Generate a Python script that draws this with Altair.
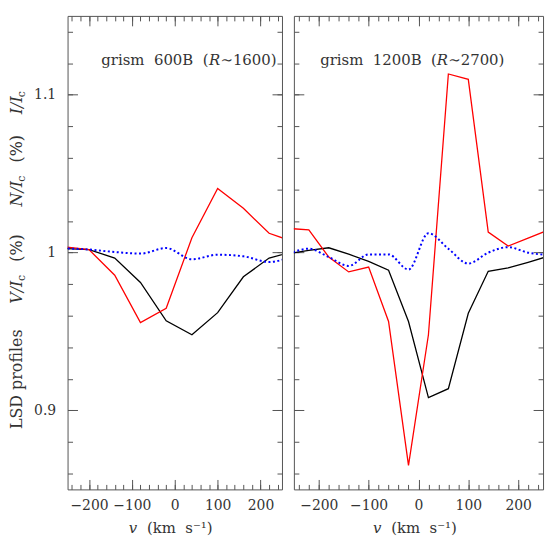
import altair as alt
import pandas as pd

# ---------------- data ----------------
v_600 = [-260, -200, -140, -80, -20, 40, 100, 160, 220, 280]
I_600 = [1.0026, 1.0019, 0.9966, 0.9811, 0.9568, 0.9480, 0.9620, 0.9847, 0.9966, 1.0008]
V_600 = [1.0038, 1.0019, 0.9857, 0.9557, 0.9648, 1.0094, 1.0406, 1.0281, 1.0123, 1.0066]
N_600 = [1.0027, 1.0020, 1.0004, 0.9994, 1.0029, 0.9958, 0.9987, 0.9977, 0.9941, 0.9983]

v_1200 = [-260, -220, -180, -140, -100, -60, -20, 20, 60, 100, 140, 180, 220, 260]
I_1200 = [0.9995, 1.0014, 1.0031, 0.9990, 0.9945, 0.9889, 0.9564, 0.9082, 0.9138, 0.9616, 0.9882, 0.9903, 0.9939, 0.9977]
V_1200 = [1.0153, 1.0145, 0.9972, 0.9878, 0.9909, 0.9564, 0.8652, 0.9480, 1.1132, 1.1098, 1.0130, 1.0042, 1.0092, 1.0143]
N_1200 = [0.9992, 1.0025, 0.9972, 0.9916, 0.9989, 0.9989, 0.9893, 1.0123, 1.0025, 0.9931, 1.0000, 1.0035, 1.0000, 0.9985]

x_label_ticks = [-200, -100, 0, 100, 200]
x_minor_ticks = [-240, -220, -200, -180, -160, -140, -120, -100, -80, -60, -40, -20, 0,
                 20, 40, 60, 80, 100, 120, 140, 160, 180, 200, 220, 240]
y_label_ticks = [0.9, 1.0, 1.1]
y_minor_ticks = [0.86, 0.88, 0.90, 0.92, 0.94, 0.96, 0.98, 1.00, 1.02, 1.04, 1.06, 1.08,
                 1.10, 1.12, 1.14]

FONT = "DejaVu Serif"
TXT = "#333333"
FRAME = "#555555"
SP = "\u00a0\u00a0"  # wide word gap (non-collapsing)

X_SCALE = alt.Scale(domain=[-250, 250], nice=False, zero=False)
Y_SCALE = alt.Scale(domain=[0.85, 1.15], nice=False, zero=False)


def tick_axis(orient, values, size):
    return alt.Axis(orient=orient, values=values, offset=-size, tickSize=size,
                    ticks=True, labels=False, domain=False, grid=False, title=None,
                    tickColor=FRAME, tickWidth=1)


def label_axis_x():
    return alt.Axis(orient="bottom", values=x_label_ticks, ticks=False, tickSize=0,
                    domain=False, grid=False, title=None, labelPadding=9,
                    labelFont=FONT, labelFontSize=14, labelColor=TXT, format="d",
                    labelOverlap=False, labelFlush=False)


def label_axis_y():
    return alt.Axis(orient="left", values=y_label_ticks, ticks=False, tickSize=0,
                    domain=False, grid=False, title=None, labelPadding=12,
                    labelFont=FONT, labelFontSize=14, labelColor=TXT, format="~g",
                    labelOverlap=False, labelFlush=False)


def line(df, col, ax_x, ax_y, **mark):
    return alt.Chart(df).mark_line(clip=True, **mark).encode(
        x=alt.X("v:Q", scale=X_SCALE, axis=ax_x),
        y=alt.Y(f"{col}:Q", scale=Y_SCALE, axis=ax_y),
    )


def txt(s, x, y, size=15, italic=False, angle=0, align="center", baseline="middle"):
    kw = dict(text=s, font=FONT, fontSize=size, color=TXT, align=align,
              baseline=baseline, angle=angle)
    if italic:
        kw["fontStyle"] = "italic"
    return alt.Chart(alt.Data(values=[{}])).mark_text(**kw).encode(
        x=alt.value(x), y=alt.value(y))


def panel(v, I, N, V, width, show_ylabels, texts):
    df = pd.DataFrame({"v": v, "I": I, "N": N, "V": V})
    layers = [
        line(df, "I", label_axis_x(), label_axis_y() if show_ylabels else None,
             color="#000000", strokeWidth=1.3),
        line(df, "V", tick_axis("bottom", x_label_ticks, 10), tick_axis("left", y_label_ticks, 10),
             color="#ff0000", strokeWidth=1.3),
        line(df, "N", tick_axis("bottom", x_minor_ticks, 5), tick_axis("left", y_minor_ticks, 5),
             color="#0000ff", strokeWidth=2, strokeDash=[2, 2.5], interpolate="monotone"),
        line(df, "I", tick_axis("top", x_label_ticks, 10), tick_axis("right", y_label_ticks, 10),
             opacity=0),
        line(df, "I", tick_axis("top", x_minor_ticks, 5), tick_axis("right", y_minor_ticks, 5),
             opacity=0),
    ] + texts
    return alt.layer(*layers).resolve_axis(x="independent", y="independent").properties(
        width=width, height=477)


XT = "(km" + SP + "s\u207b\u00b9)"

left_texts = [
    # grism title
    txt("grism" + SP + "600B" + SP + "(", 142, 44.5, align="right"),
    txt("R", 148, 44.5, italic=True),
    txt("\u223c1600)", 154, 44.5, align="left"),
    # x title
    txt("v", 66, 516, size=15, italic=True),
    txt(XT, 80, 516, size=15, align="left"),
    # y title (rotated pieces)
    txt("LSD" + "\u00a0" + "profiles", -51, 366, size=16, angle=270),
    txt("V/I", -51, 290, size=16, italic=True, angle=270, align="left"),
    txt("c", -46, 264, size=11, angle=270),
    txt("(%)", -51, 220, size=16, angle=270, align="right"),
    txt("N/I", -51, 192, size=16, italic=True, angle=270, align="left"),
    txt("c", -46, 164, size=11, angle=270),
    txt("(%)", -51, 120, size=16, angle=270, align="right"),
    txt("I/I", -51, 99, size=16, italic=True, angle=270, align="left"),
    txt("c", -46, 79, size=11, angle=270),
]

right_texts = [
    txt("grism" + SP + "1200B" + SP + "(", 144, 44.5, align="right"),
    txt("R", 149.5, 44.5, italic=True),
    txt("\u223c2700)", 155.5, 44.5, align="left"),
    txt("v", 84, 516, size=15, italic=True),
    txt(XT, 98, 516, size=15, align="left"),
]

left = panel(v_600, I_600, N_600, V_600, 216, True, left_texts)
right = panel(v_1200, I_1200, N_1200, V_1200, 251, False, right_texts)

chart = alt.hconcat(left, right, spacing=10).properties(
    padding={"left": 0, "top": 5, "right": 5, "bottom": 0}
).configure_view(stroke=FRAME, strokeWidth=1)

chart.save("out.html", embed_options={"renderer": "svg", "actions": False})
